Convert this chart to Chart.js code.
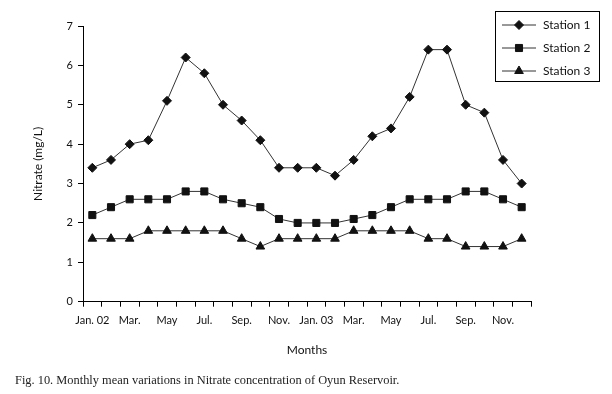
<!DOCTYPE html>
<html lang="en">
<head>
    <meta charset="UTF-8">
    <title>Nitrate | Oyun Reservoir</title>
    <style>
        body { margin: 0; background: #fff; }
        #wrap { position: relative; width: 612px; height: 394px; }
        #caption {
            position: absolute; left: 15px; top: 373px;
            font: 12.4px "Liberation Serif", "Times New Roman", serif;
            color: #222; white-space: nowrap;
        }
    </style>
    <script src="https://cdn.jsdelivr.net/npm/chart.js"></script>
</head>
<body>

    <div id="wrap">
        <canvas id="nitrateChart" width="612" height="394"></canvas>
        <div id="caption">Fig. 10. Monthly mean variations in Nitrate concentration of Oyun Reservoir.</div>
    </div>

    <script>
        // Month labels (only every other month is printed)
        const months = ['Jan. 02', '', 'Mar.', '', 'May', '', 'Jul.', '', 'Sep.', '', 'Nov.', '',
                        'Jan. 03', '', 'Mar.', '', 'May', '', 'Jul.', '', 'Sep.', '', 'Nov.', ''];

        // Nitrate (mg/L) per station
        const station1 = [3.4, 3.6, 4.0, 4.1, 5.1, 6.2, 5.8, 5.0, 4.6, 4.1, 3.4, 3.4,
                          3.4, 3.2, 3.6, 4.2, 4.4, 5.2, 6.4, 6.4, 5.0, 4.8, 3.6, 3.0];
        const station2 = [2.2, 2.4, 2.6, 2.6, 2.6, 2.8, 2.8, 2.6, 2.5, 2.4, 2.1, 2.0,
                          2.0, 2.0, 2.1, 2.2, 2.4, 2.6, 2.6, 2.6, 2.8, 2.8, 2.6, 2.4];
        const station3 = [1.6, 1.6, 1.6, 1.8, 1.8, 1.8, 1.8, 1.8, 1.6, 1.4, 1.6, 1.6,
                          1.6, 1.6, 1.8, 1.8, 1.8, 1.8, 1.6, 1.6, 1.4, 1.4, 1.4, 1.6];

        const yTicks = [0, 1, 2, 3, 4, 5, 6, 7];

        const labelFont = 'Lato';

        // boxed legend in the top right corner, drawn over the plot
        const boxLegend = {
            id: 'boxLegend',
            afterDraw(chart) {
                const ctx = chart.ctx;
                ctx.save();
                ctx.lineWidth = 1;
                ctx.strokeStyle = '#000';
                ctx.strokeRect(495.5, 11.5, 104, 70);
                chart.data.datasets.forEach((ds, i) => {
                    const y = 25 + i * 23;
                    ctx.beginPath();
                    ctx.strokeStyle = ds.borderColor;
                    ctx.moveTo(502, y);
                    ctx.lineTo(536, y);
                    ctx.stroke();
                    ctx.fillStyle = ds.pointBackgroundColor;
                    ctx.strokeStyle = ds.pointBorderColor;
                    Chart.helpers.drawPoint(ctx, {
                        pointStyle: ds.pointStyle, radius: ds.pointRadius, borderWidth: 1, rotation: 0
                    }, 519, y);
                    ctx.fillStyle = '#111';
                    ctx.font = '12px ' + labelFont;
                    ctx.textBaseline = 'middle';
                    ctx.fillText(ds.label, 543, y + 0.5);
                });
                ctx.restore();
            }
        };

        const ctx = document.getElementById('nitrateChart').getContext('2d');

        const nitrateChart = new Chart(ctx, {
            type: 'line',
            data: {
                labels: months,
                datasets: [{
                    label: 'Station 1',
                    data: station1,
                    borderColor: '#333',
                    borderWidth: 1,
                    pointStyle: 'rectRot',
                    pointRadius: 4.5,
                    pointBackgroundColor: '#111',
                    pointBorderColor: '#111',
                    pointBorderWidth: 1
                }, {
                    label: 'Station 2',
                    data: station2,
                    borderColor: '#333',
                    borderWidth: 1,
                    pointStyle: 'rect',
                    pointRadius: 5,
                    pointBackgroundColor: '#111',
                    pointBorderColor: '#111',
                    pointBorderWidth: 1
                }, {
                    label: 'Station 3',
                    data: station3,
                    borderColor: '#333',
                    borderWidth: 1,
                    pointStyle: 'triangle',
                    pointRadius: 5,
                    pointBackgroundColor: '#111',
                    pointBorderColor: '#111',
                    pointBorderWidth: 1
                }]
            },
            options: {
                responsive: false,
                animation: false,
                layout: { padding: { top: 26, right: 81, bottom: 30, left: 0 } },
                plugins: {
                    legend: { display: false },
                    tooltip: { enabled: false }
                },
                elements: { line: { tension: 0 } },
                scales: {
                    x: {
                        type: 'category',
                        offset: true,
                        grid: {
                            display: true, drawOnChartArea: false, offset: true,
                            tickLength: 5, color: '#000', lineWidth: 1
                        },
                        border: { display: true, color: '#000', width: 1 },
                        ticks: {
                            autoSkip: false, maxRotation: 0, padding: 7,
                            color: '#111', font: { family: labelFont, size: 11 }
                        },
                        title: {
                            display: true, text: 'Months', color: '#111',
                            font: { family: labelFont, size: 12 },
                            padding: { top: 0, bottom: 7 }
                        },
                        afterFit: s => { s.height = 62.3; }
                    },
                    y: {
                        min: 0,
                        max: 7,
                        afterBuildTicks: s => { s.ticks = yTicks.map(v => ({ value: v })); },
                        grid: {
                            display: true, drawOnChartArea: false,
                            tickLength: 5, color: '#000', lineWidth: 1
                        },
                        border: { display: true, color: '#000', width: 1 },
                        ticks: {
                            padding: 5, color: '#111', font: { family: labelFont, size: 11 }
                        },
                        title: {
                            display: true, text: 'Nitrate (mg/L)', color: '#111',
                            font: { family: labelFont, size: 12 },
                            padding: { top: 31, bottom: 0 }
                        },
                        afterFit: s => { s.width = 83; }
                    }
                }
            },
            plugins: [boxLegend]
        });
    </script>
</body>
</html>
